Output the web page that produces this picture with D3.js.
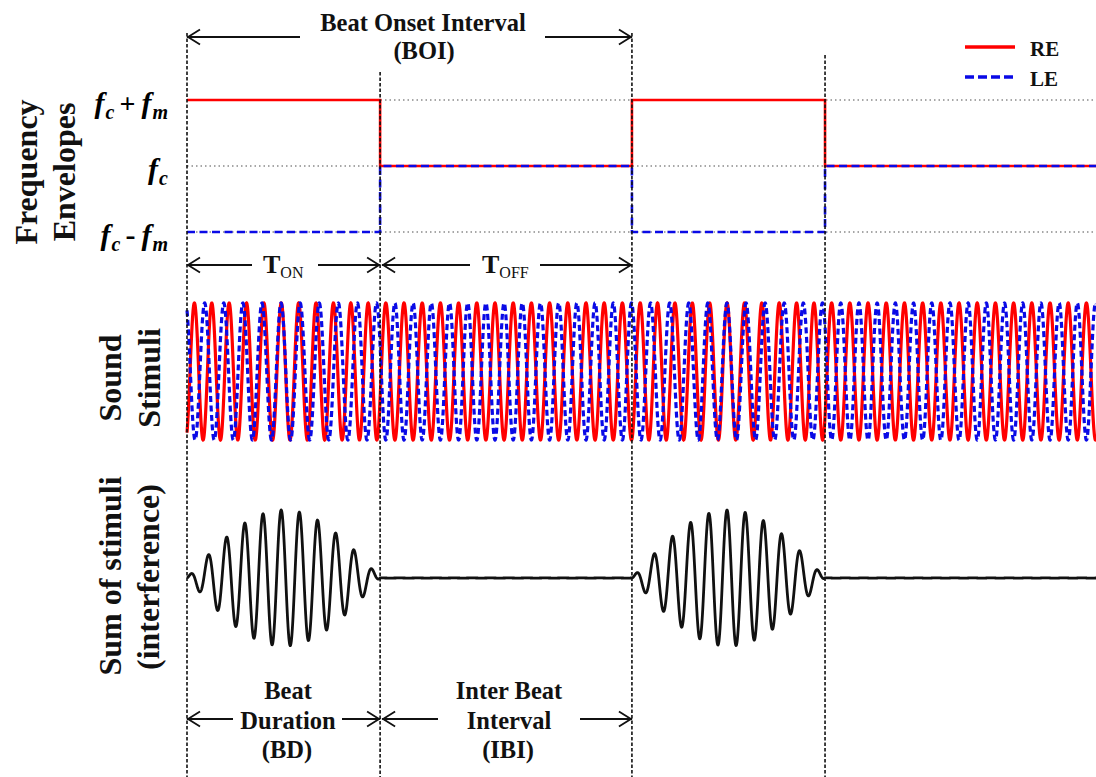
<!DOCTYPE html>
<html>
<head>
<meta charset="utf-8">
<script src="https://cdn.jsdelivr.net/npm/d3@7"></script>
<style>
  html, body { margin: 0; padding: 0; background: #fff; }
  svg { display: block; }
</style>
</head>
<body>
<svg id="chart" width="1096" height="777"></svg>
<script>
// ---------------- DATA ----------------
// time axis in units of one Beat Onset Interval (BOI = 1)
const segStart = [0, 0.434, 1.0, 1.434];          // segment onsets
const segState = ["ON", "OFF", "ON", "OFF"];      // beat on / off
const tEnd = 2.043;                               // right edge of the window
// frequency envelopes (in units of fm around fc)
const reEnvelope = [1, 0, 1, 0];
const leEnvelope = [-1, 0, -1, 0];
const envTickValues = [1, 0, -1];
const envTickLabels = ["fc+fm", "fc", "fc-fm"];
// carrier / modulation (cycles per BOI)
const fc = 24.45;
const fm = 1.152;
const phaseStart = -1.1;        // RE starting phase (rad)
const lePhaseOffset = Math.PI;  // LE starts in antiphase
// legend
const legendLabels = ["RE", "LE"];
// boundaries: dashed markers
const markerTimes = [0, 0.434, 1.0, 1.434];

// ---------------- SETUP ----------------
const svg = d3.select("#chart");
const W = 1096, H = 777;
svg.append("rect").attr("width", W).attr("height", H).attr("fill", "#fff");

const RED = "#ff0000", BLUE = "#0a0ae6", SERIF = "'Liberation Serif','Times New Roman',serif";

const x = d3.scaleLinear().domain([0, tEnd]).range([187, 1096]);
const yEnv = d3.scaleLinear().domain([-1, 1]).range([232, 100]);
const yStim = d3.scaleLinear().domain([-1, 1]).range([440, 303]);
const ySum = d3.scaleLinear().domain([-2, 2]).range([646, 510]);

// ---------------- FREQUENCY ENVELOPES ----------------
const gEnv = svg.append("g");
gEnv.selectAll("line.ref").data(envTickValues).join("line")
  .attr("x1", x(0)).attr("x2", x(tEnd))
  .attr("y1", d => yEnv(d)).attr("y2", d => yEnv(d))
  .attr("stroke", "#8a8a8a").attr("stroke-width", 1.4)
  .attr("stroke-dasharray", "1.5,3");

function stepData(levels) {
  const pts = segStart.map((s, i) => [s, levels[i]]);
  pts.push([tEnd, levels[levels.length - 1]]);
  return pts;
}
const stepLine = d3.line().x(d => x(d[0])).y(d => yEnv(d[1])).curve(d3.curveStepAfter);
gEnv.append("path").datum(stepData(reEnvelope)).attr("d", stepLine)
  .attr("fill", "none").attr("stroke", RED).attr("stroke-width", 2.6);
gEnv.append("path").datum(stepData(leEnvelope)).attr("d", stepLine)
  .attr("fill", "none").attr("stroke", BLUE).attr("stroke-width", 2.6)
  .attr("stroke-dasharray", "8,4.5");

// axis with math labels
const envAxis = d3.axisLeft(yEnv).tickValues(envTickValues).tickSize(0).tickFormat("");
const gAxis = svg.append("g").attr("transform", "translate(168,0)").call(envAxis);
gAxis.select(".domain").remove();
gAxis.selectAll(".tick text").each(function (d) {
  const lab = envTickLabels[envTickValues.indexOf(d)];
  const t = d3.select(this)
    .attr("x", 0).attr("dy", null).attr("y", 12)
    .attr("fill", "#000")
    .style("font-family", SERIF).style("font-weight", "bold").style("font-style", "italic");
  let shifted = false, afterOp = false;
  for (let i = 0; i < lab.length; i++) {
    const ch = lab[i];
    if (ch === "f") {
      t.append("tspan").text("f").style("font-size", "30px")
        .attr("dy", shifted ? -6 : null).attr("dx", afterOp ? 6 : null);
      t.append("tspan").text(lab[i + 1]).style("font-size", "20px").attr("dy", 6).attr("dx", 1);
      shifted = true; afterOp = false;
      i++;
    } else {
      t.append("tspan").text(ch)
        .style("font-size", ch === "+" ? "28px" : "30px").style("font-style", "normal")
        .attr("dy", shifted ? -6 : null).attr("dx", 5);
      shifted = false; afterOp = true;
    }
  }
});

// ---------------- SOUND STIMULI ----------------
const dt = tEnd / 6000;
const samples = [];
let phR = phaseStart, phL = phaseStart + lePhaseOffset;
for (let t = 0; t <= tEnd + 1e-9; t += dt) {
  const i = d3.bisectRight(segStart, t) - 1;
  const on = segState[i] === "ON";
  samples.push({ t, re: Math.sin(phR), le: Math.sin(phL) });
  const fR = fc + (on ? fm : 0), fL = fc - (on ? fm : 0);
  phR += 2 * Math.PI * fR * dt;
  phL += 2 * Math.PI * fL * dt;
}
const gStim = svg.append("g");
gStim.append("path").datum(samples)
  .attr("d", d3.line().x(d => x(d.t)).y(d => yStim(d.re)))
  .attr("fill", "none").attr("stroke", RED).attr("stroke-width", 3.2);
gStim.append("path").datum(samples)
  .attr("d", d3.line().x(d => x(d.t)).y(d => yStim(d.le)))
  .attr("fill", "none").attr("stroke", BLUE).attr("stroke-width", 3.2)
  .attr("stroke-dasharray", "6,3.5");

// ---------------- SUM (INTERFERENCE) ----------------
svg.append("path").datum(samples)
  .attr("d", d3.line().x(d => x(d.t)).y(d => ySum(d.re + d.le)))
  .attr("fill", "none").attr("stroke", "#111").attr("stroke-width", 2.8);

// ---------------- DASHED MARKERS ----------------
const markerTops = [33, 72, 33, 55];
svg.selectAll("line.marker").data(markerTimes).join("line")
  .attr("x1", d => x(d)).attr("x2", d => x(d))
  .attr("y1", (d, i) => markerTops[i]).attr("y2", H)
  .attr("stroke", "#111").attr("stroke-width", 1.6)
  .attr("stroke-dasharray", "3.5,2");

// ---------------- ARROW ANNOTATIONS ----------------
function arrow(xa, xb, y, gapL, gapR) {
  const g = svg.append("g").attr("stroke", "#111").attr("stroke-width", 1.8).attr("fill", "none");
  g.append("line").attr("x1", xa).attr("x2", gapL).attr("y1", y).attr("y2", y);
  g.append("line").attr("x1", gapR).attr("x2", xb).attr("y1", y).attr("y2", y);
  g.append("path").attr("d", `M${xa + 13},${y - 7.5}L${xa + 1},${y}L${xa + 13},${y + 7.5}`);
  g.append("path").attr("d", `M${xb - 13},${y - 7.5}L${xb - 1},${y}L${xb - 13},${y + 7.5}`);
}
function label(txt, cx, y, size, weight) {
  svg.append("text").attr("x", cx).attr("y", y).attr("text-anchor", "middle")
    .style("font-family", SERIF).style("font-size", size + "px")
    .style("font-weight", weight || "bold").attr("fill", "#111").text(txt);
}

// Beat Onset Interval
arrow(x(0), x(1.0), 37, 300, 545);
label("Beat Onset Interval", 423, 31, 24.5);
label("(BOI)", 424, 59, 24.5);

// T_ON / T_OFF
arrow(x(0), x(0.434), 265, 252, 318);
arrow(x(0.434) + 2, x(1.0), 265, 470, 540);
function tLabel(sub, xLeft) {
  const t = svg.append("text").attr("x", xLeft).attr("y", 273)
    .style("font-family", SERIF).attr("fill", "#111");
  t.append("tspan").text("T").style("font-size", "26px").style("font-weight", "bold");
  t.append("tspan").text(sub).style("font-size", "16px").attr("dy", 5);
}
tLabel("ON", 263);
tLabel("OFF", 482);

// Beat Duration / Inter Beat Interval
arrow(x(0), x(0.434), 719, 233, 342);
arrow(x(0.434) + 2, x(1.0), 719, 438, 580);
label("Beat", 288, 699, 24.5);
label("Duration", 288, 729, 24.5);
label("(BD)", 287, 758, 24.5);
label("Inter Beat", 509, 699, 24.5);
label("Interval", 509, 729, 24.5);
label("(IBI)", 508, 758, 24.5);

// ---------------- ROTATED PANEL TITLES ----------------
function vTitle(txt, bx, cy) {
  svg.append("text").attr("transform", `translate(${bx},${cy}) rotate(-90)`)
    .attr("text-anchor", "middle")
    .style("font-family", SERIF).style("font-size", "32px").style("font-weight", "bold")
    .attr("fill", "#111").text(txt);
}
vTitle("Frequency", 37, 172);
vTitle("Envelopes", 75, 172);
vTitle("Sound", 121, 378);
vTitle("Stimuli", 160, 378);
vTitle("Sum of stimuli", 121, 576);
vTitle("(interference)", 159, 577);

// ---------------- LEGEND ----------------
const lg = svg.append("g");
lg.selectAll("line").data(legendLabels).join("line")
  .attr("x1", 965).attr("x2", 1015)
  .attr("y1", (d, i) => 47 + i * 30).attr("y2", (d, i) => 47 + i * 30)
  .attr("stroke", (d, i) => i === 0 ? RED : BLUE).attr("stroke-width", 3.5)
  .attr("stroke-dasharray", (d, i) => i === 0 ? null : "9,4");
lg.selectAll("text").data(legendLabels).join("text")
  .attr("x", 1030).attr("y", (d, i) => 56 + i * 30)
  .style("font-family", SERIF).style("font-size", "21px").style("font-weight", "bold")
  .attr("fill", "#111").text(d => d);
</script>
</body>
</html>
